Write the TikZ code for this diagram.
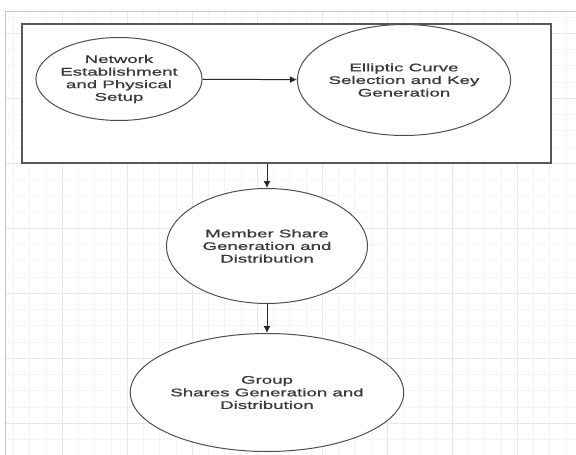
\documentclass[tikz,border=0pt]{standalone}
\usepackage{fontspec}
\setmainfont{Liberation Sans}[FakeStretch=1.7,FakeBold=1]
\usetikzlibrary{arrows.meta,positioning,shapes.geometric}
\definecolor{gridminor}{HTML}{F5F5F5}
\definecolor{gridmajor}{HTML}{E8E8E8}
\definecolor{inkgray}{HTML}{3A3A3A}
\tikzset{
  phase/.style={ellipse,draw=inkgray!90,fill=white,line width=1pt,inner sep=0pt,
    align=center,text=inkgray,font=\fontsize{11}{12.6}\selectfont},
  stagebox/.style={rectangle,draw=inkgray!85,fill=white,line width=1.4pt,inner sep=0pt},
  flow/.style={-{Latex[length=7pt,width=7pt]},line width=1pt,draw=black!85},
  x=1pt,y=-1pt}

\begin{document}
\begin{tikzpicture}
        \useasboundingbox (0,0) rectangle (576,455);
        % grid paper
        \foreach \i in {0,...,34}
          \draw[gridminor] (13.25+16.25*\i,11) -- (13.25+16.25*\i,455);
        \foreach \j in {0,...,27}
          \draw[gridminor] (5,16.75+16.25*\j) -- (576,16.75+16.25*\j);
        \foreach \i in {0,...,8}
          \draw[gridmajor] (62+65*\i,11) -- (62+65*\i,455);
        \foreach \j in {0,...,6}
          \draw[gridmajor] (5,33+65*\j) -- (576,33+65*\j);
        \draw[black!22,line width=0.8pt] (5,455) -- (5,11) -- (576,11);

        \node[stagebox,minimum width=529pt,minimum height=139pt] (setup) at (286.5,93.5) {};

        \node[phase,minimum width=148pt,minimum height=83pt] (net) at (119,79)
          {Network\\Establishment\\and Physical\\Setup};
        \node[phase,minimum width=195pt,minimum height=111pt] (ecc) at (404,80)
          {Elliptic Curve\\Selection and Key\\Generation};
        \node[phase,minimum width=201pt,minimum height=115pt] (member) at (267,246)
          {Member Share\\Generation and\\Distribution};
        \node[phase,minimum width=212pt,minimum height=118pt] (group) [below=29pt of member]
          {Group\\Shares Generation and\\Distribution};

        \draw[flow] (net) -- (ecc);
        \draw[flow] (setup.south -| member.north) -- (member.north);
        \draw[flow] (member) -- (group);
    \end{tikzpicture}
\end{document}
